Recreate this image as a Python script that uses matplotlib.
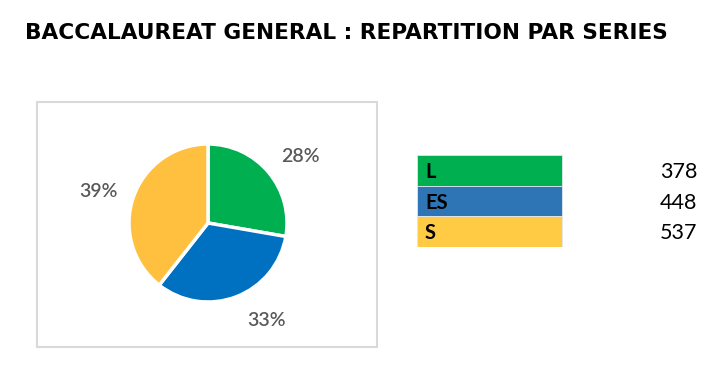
import numpy as np
import matplotlib.pyplot as plt
from matplotlib.patches import Rectangle

# data
series = ['L', 'ES', 'S']
counts = [378, 448, 537]
pie_colors = ['#00B050', '#0070C0', '#FFC03F']
table_colors = ['#00B050', '#2E75B6', '#FFCA44']
title = 'BACCALAUREAT GENERAL : REPARTITION PAR SERIES'

W, H = 725, 369
fig = plt.figure(figsize=(W / 100, H / 100), dpi=100)
fig.patch.set_facecolor('white')

# title
fig.text(25 / W, 1 - 33 / H, title, fontsize=15.6, fontweight='heavy',
         family='DejaVu Sans', ha='left', va='center', color='black')

# frame around the pie
fig.patches.append(Rectangle((37 / W, 1 - 347 / H), 340 / W, 245 / H,
                             transform=fig.transFigure, fill=False,
                             edgecolor='#d9d9d9', linewidth=1.5))

# pie
cx, cy, half = 208, 223, 120
ax = fig.add_axes([(cx - half) / W, 1 - (cy + half) / H, 2 * half / W, 2 * half / H])
wedges, texts, autotexts = ax.pie(
    counts, colors=pie_colors, startangle=90, counterclock=False,
    autopct='%1.0f%%', pctdistance=1.44,
    wedgeprops=dict(edgecolor='white', linewidth=2.5),
    textprops=dict(color='#595959', fontsize=14, fontweight='semibold',
                   family='Lato'))
# excel "best fit" nudges the labels a little off the slice middle
label_angles = [36, -59, 164]
for t, a in zip(autotexts, label_angles):
    t.set_position((1.44 * np.cos(np.radians(a)), 1.44 * np.sin(np.radians(a))))
lim = half / 79
ax.set_xlim(-lim, lim)
ax.set_ylim(-lim, lim)
ax.set_aspect('equal')
ax.axis('off')

# table of series
tx0, tx1, ty0, ty1 = 417, 700, 155, 247
tab = fig.add_axes([tx0 / W, 1 - ty1 / H, (tx1 - tx0) / W, (ty1 - ty0) / H])
rows = list(range(len(series)))
tab.barh(rows, [1] * len(series), height=1, left=0, color=table_colors,
         edgecolor='#e0e6ee', linewidth=0.6)
xmax = (tx1 - tx0) / 145
tab.set_xlim(0, xmax)
tab.set_ylim(len(series) - 0.5, -0.5)
tab.axis('off')
for i, (name, n) in enumerate(zip(series, counts)):
    tab.text(0.055, i + 0.05, name, ha='left', va='center', fontsize=14.5,
             fontweight='bold', family='Lato', color='black')
    tab.text(xmax - 0.02, i + 0.05, str(n), ha='right', va='center',
             fontsize=15.5, family='Lato', color='black')

fig.savefig('out.png', dpi=100)
